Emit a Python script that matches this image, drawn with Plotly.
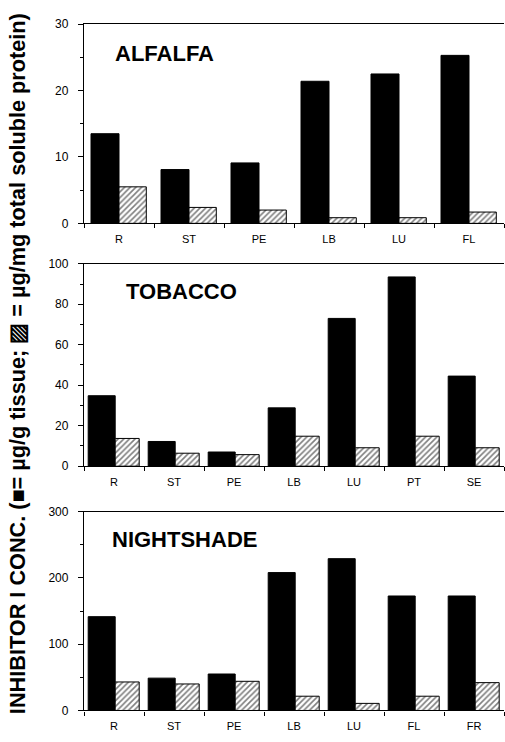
import plotly.graph_objects as go

# ---- data ----
alfalfa_cats = ["R", "ST", "PE", "LB", "LU", "FL"]
alfalfa_tissue = [13.5, 8.1, 9.1, 21.4, 22.5, 25.3]
alfalfa_protein = [5.5, 2.4, 2.0, 0.85, 0.85, 1.7]

tobacco_cats = ["R", "ST", "PE", "LB", "LU", "PT", "SE"]
tobacco_tissue = [34.8, 12.2, 7.0, 28.8, 73.0, 93.5, 44.5]
tobacco_protein = [13.7, 6.4, 5.7, 14.8, 9.1, 14.8, 9.1]

night_cats = ["R", "ST", "PE", "LB", "LU", "FL", "FR"]
night_tissue = [141.5, 48.8, 55.0, 208.0, 229.0, 172.7, 172.7]
night_protein = [43.0, 40.0, 44.0, 21.5, 10.7, 21.5, 42.0]

panel_titles = ["ALFALFA", "TOBACCO", "NIGHTSHADE"]
y_title = "INHIBITOR I CONC. (■= µg/g tissue; ▨ = µg/mg total soluble protein)"

W, H = 505, 742
FONT = "Liberation Sans, Arial, Helvetica, sans-serif"


def py(pix):
    return 1 - pix / H


panels = [
    dict(cats=alfalfa_cats, t=alfalfa_tissue, p=alfalfa_protein, rng=30, dt=10, mdt=5,
         top=17.5, bot=220.5, bw=(0.40, 0.39), off=(-0.4, 0.0)),
    dict(cats=tobacco_cats, t=tobacco_tissue, p=tobacco_protein, rng=100, dt=20, mdt=10,
         top=261.7, bot=468, bw=(0.45, 0.40), off=(-0.43, 0.02)),
    dict(cats=night_cats, t=night_tissue, p=night_protein, rng=300, dt=100, mdt=50,
         top=514.3, bot=717, bw=(0.45, 0.40), off=(-0.43, 0.02)),
]
title_pos = [(113, 47.5), (124, 289.5), (110, 543)]

fig = go.Figure()
layout = dict(
    width=W, height=H,
    margin=dict(l=0, r=0, t=0, b=0),
    paper_bgcolor="white", plot_bgcolor="white",
    showlegend=False, barmode="overlay",
    font=dict(family=FONT, color="black", size=11),
)

for i, pn in enumerate(panels):
    k = "" if i == 0 else str(i + 1)
    xa, ya = "x" + k, "y" + k
    fig.add_trace(go.Bar(
        x=pn["cats"], y=pn["t"], xaxis=xa, yaxis=ya,
        width=pn["bw"][0], offset=pn["off"][0],
        marker=dict(color="black", line=dict(color="black", width=1)),
    ))
    fig.add_trace(go.Bar(
        x=pn["cats"], y=pn["p"], xaxis=xa, yaxis=ya,
        width=pn["bw"][1], offset=pn["off"][1],
        marker=dict(color="white", line=dict(color="black", width=1),
                    pattern=dict(shape="/", fgcolor="black", bgcolor="white",
                                 size=4, solidity=0.4)),
    ))
    layout["xaxis" + k] = dict(
        domain=[84 / W, 504 / W], anchor=ya,
        type="category", tickson="boundaries",
        ticks="outside", ticklen=4, tickwidth=1, tickcolor="black",
        showline=True, linecolor="black", linewidth=1.3, mirror=True,
        showgrid=False, zeroline=False,
        tickfont=dict(size=11, family=FONT), ticklabelstandoff=5,
        range=[-0.5, len(pn["cats"]) - 0.5], fixedrange=True,
    )
    layout["yaxis" + k] = dict(
        domain=[py(pn["bot"]), py(pn["top"])], anchor=xa,
        range=[0, pn["rng"]], dtick=pn["dt"], tick0=0,
        ticks="outside", ticklen=5, tickwidth=1, tickcolor="black",
        minor=dict(dtick=pn["mdt"], ticks="outside", ticklen=3, tickcolor="black"),
        showline=True, linecolor="black", linewidth=1.3,
        showgrid=False, zeroline=False,
        tickfont=dict(size=12, family=FONT), ticklabelstandoff=7,
        fixedrange=True,
    )

annotations = []
for (tx, ty), name in zip(title_pos, panel_titles):
    annotations.append(dict(
        text="<b>%s</b>" % name, xref="paper", yref="paper",
        x=tx / W, y=py(ty), xanchor="left", yanchor="middle",
        showarrow=False, font=dict(size=22, family=FONT, color="black"),
    ))
annotations.append(dict(
    text="<b>%s</b>" % y_title, xref="paper", yref="paper",
    x=17 / W, y=py(364), xanchor="center", yanchor="middle", textangle=-90,
    showarrow=False, font=dict(size=21.7, family=FONT, color="black"),
))
layout["annotations"] = annotations

fig.update_layout(**layout)
fig.write_html(
    "out.html",
    config=dict(displayModeBar=False),
    post_script="document.body.style.margin='0';document.body.style.overflow='hidden';",
)
